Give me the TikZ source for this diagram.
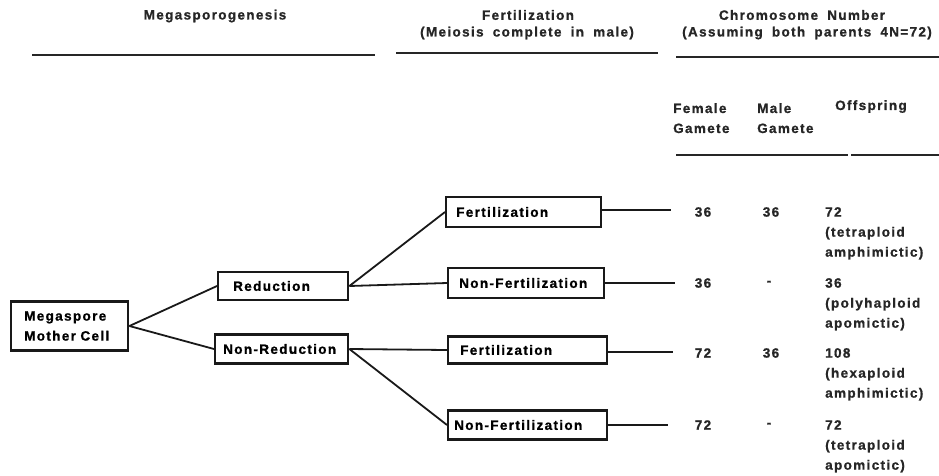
\documentclass[tikz,border=0pt]{standalone}
\usepackage{fontspec}
\newfontfamily\figfont{Liberation Sans}[UprightFont=* Bold,LetterSpace=10,WordSpace=1.8,FakeBold=1]
\tikzset{
  branchbox/.style={draw=black!90,line width=2.4pt,anchor=west,align=left,inner ysep=0pt,fill=white},
  headrule/.style={draw=black!85,line width=2pt},
  link/.style={draw=black!90,line width=1.8pt},
  cell/.style={inner sep=0pt,text=black!85},
}
\begin{document}
\begin{tikzpicture}[x=1pt,y=-1pt,font=\figfont\fontsize{13.5}{20}\selectfont]
\useasboundingbox[fill=white] (0,0) rectangle (939,475);
% column headers
\node[cell] (head-mega) at (215,16) {Megasporogenesis};
\node[cell] (head-fert) at (528,15) {Fertilization};
\node[cell] (head-meio) at (527,33) {(Meiosis complete in male)};
\node[cell] (head-chrom) at (802,15) {Chromosome Number};
\node[cell] (head-assum) at (807,33) {(Assuming both parents 4N=72)};
\path[headrule] (32,55) -- (375,55);
\path[headrule] (396,53) -- (658,53);
\path[headrule] (676,57) -- (939,57);
\node[cell,anchor=north west,align=left] (sub-female) at (673,103) {Female\\Gamete};
\node[cell,anchor=north west,align=left] (sub-male) at (757,103) {Male\\Gamete};
\node[cell,anchor=north west,align=left] (sub-off) at (835,100) {Offspring};
\path[headrule] (676,155) -- (848,155);
\path[headrule] (851,155) -- (939,155);
% branching boxes
\node[branchbox,minimum height=49pt,inner xsep=13pt,text width=91pt] (mother) at (10,326) {Megaspore\\Mother Cell};
\node[branchbox,minimum height=28pt,inner xsep=15pt,text width=100pt] (red) at (217,286) {Reduction};
\node[branchbox,minimum height=29pt,inner xsep=8pt,text width=117pt] (nonred) at (214,349) {Non-Reduction};
\node[branchbox,minimum height=30pt,inner xsep=10pt,text width=135pt] (fert-a) at (445,212) {Fertilization};
\node[branchbox,minimum height=30pt,inner xsep=11pt,text width=134pt] (nonfert-a) at (447,283) {Non-Fertilization};
\node[branchbox,minimum height=27pt,inner xsep=12pt,text width=135pt] (fert-b) at (447,350) {Fertilization};
\node[branchbox,minimum height=29pt,inner xsep=6pt,text width=147pt] (nonfert-b) at (447,425) {Non-Fertilization};
\draw[link] (mother.east) -- (red.west);
\draw[link] (mother.east) -- (nonred.west);
\draw[link] (red.east) -- (fert-a.west);
\draw[link] (red.east) -- (nonfert-a.west);
\draw[link] (nonred.east) -- (fert-b.west);
\draw[link] (nonred.east) -- (nonfert-b.west);
% chromosome numbers
\coordinate (end-a) at (671,210);
\coordinate (end-b) at (675,283);
\coordinate (end-c) at (673,352);
\coordinate (end-d) at (668,425);
\draw[link] (fert-a.east |- end-a) -- (end-a);
\draw[link] (nonfert-a.east) -- (end-b);
\draw[link] (fert-b.east |- end-c) -- (end-c);
\draw[link] (nonfert-b.east) -- (end-d);
\node[cell] (fem-a) at (703,212) {36};
\node[cell] (fem-b) at (703,283) {36};
\node[cell] (fem-c) at (703,353) {72};
\node[cell] (fem-d) at (703,425) {72};
\node[cell] (male-a) at (771,212) {36};
\node[cell] (male-b) at (769,283) {-};
\node[cell] (male-c) at (771,353) {36};
\node[cell] (male-d) at (769,425) {-};
\node[cell,anchor=north west,align=left] (off-a) at (825,207) {72\\(tetraploid\\amphimictic)};
\node[cell,anchor=north west,align=left] (off-b) at (825,278) {36\\(polyhaploid\\apomictic)};
\node[cell,anchor=north west,align=left] (off-c) at (825,348) {108\\(hexaploid\\amphimictic)};
\node[cell,anchor=north west,align=left] (off-d) at (825,420) {72\\(tetraploid\\apomictic)};
\end{tikzpicture}
\end{document}
